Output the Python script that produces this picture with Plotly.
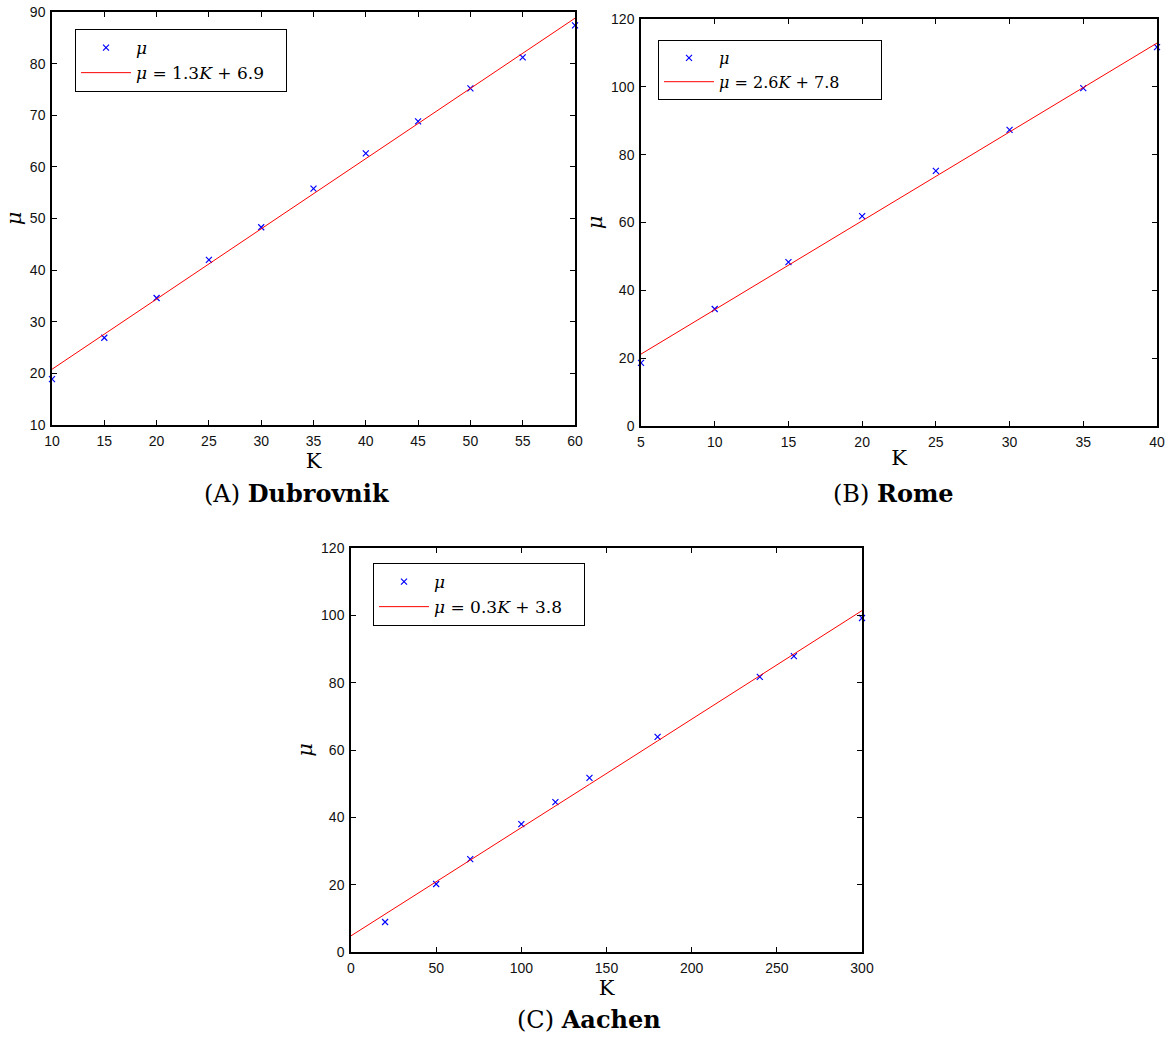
import plotly.graph_objects as go

# ---- data ----
dub_K = [10, 15, 20, 25, 30, 35, 40, 45, 50, 55, 60]
dub_mu = [18.9, 26.9, 34.6, 42.0, 48.3, 55.8, 62.6, 68.8, 75.2, 81.2, 87.4]
dub_fit = [20.8, 27.6, 34.4, 41.2, 48.0, 54.8, 61.6, 68.4, 75.2, 82.0, 88.8]
dub_label = "<i>μ</i> = 1.3<i>K</i> + 6.9"

rome_K = [5, 10, 15, 20, 25, 30, 35, 40]
rome_mu = [18.6, 34.5, 48.3, 61.9, 75.2, 87.3, 99.6, 111.7]
rome_fit = [21.2, 34.3, 47.4, 60.5, 73.6, 86.7, 99.8, 112.9]
rome_label = "<i>μ</i> = 2.6<i>K</i> + 7.8"

aac_K = [20, 50, 70, 100, 120, 140, 180, 240, 260, 300]
aac_mu = [8.9, 20.2, 27.6, 38.0, 44.5, 51.7, 63.9, 81.7, 87.9, 99.2]
aac_fit_K = [0, 20, 50, 70, 100, 120, 140, 180, 240, 260, 300]
aac_fit = [4.8, 11.2, 20.9, 27.3, 37.0, 43.4, 49.8, 62.7, 82.0, 88.5, 101.4]
aac_label = "<i>μ</i> = 0.3<i>K</i> + 3.8"

captions = ["(A) <b>Dubrovnik</b>", "(B) <b>Rome</b>", "(C) <b>Aachen</b>"]

W, H = 1173, 1040
SERIF = "DejaVu Serif"
SANS = "Liberation Sans"

def px_x(p):
    return p / W

def px_y(p):
    return 1 - p / H

# panel boxes in pixels: (left, top, right, bottom)
boxes = [(52, 12, 575, 425), (641, 19, 1157, 426), (351, 548, 862, 952)]
xranges = [[10, 60], [5, 40], [0, 300]]
yranges = [[10, 90], [0, 120], [0, 120]]
xdticks = [5, 5, 50]
ydticks = [10, 20, 20]
legend_pos = [(75, 29), (658, 40), (373, 563)]
legend_font = [17, 16, 17]
legend_pad = ["   ", "       ", "   "]
caption_pos = [(297, 493), (893, 493), (589, 1019)]

fig = go.Figure()

series = [
    (dub_K, dub_mu, dub_K, dub_fit, dub_label),
    (rome_K, rome_mu, rome_K, rome_fit, rome_label),
    (aac_K, aac_mu, aac_fit_K, aac_fit, aac_label),
]

for i, (k, mu, fk, fit, lab) in enumerate(series):
    sfx = "" if i == 0 else str(i + 1)
    leg = "legend" + sfx
    fig.add_trace(go.Scatter(
        x=k, y=mu, mode="markers", name="<i>μ</i>",
        marker=dict(symbol="x-thin", size=6, line=dict(color="#0000ff", width=1.2)),
        xaxis="x" + sfx, yaxis="y" + sfx, legend=leg, cliponaxis=False,
    ))
    fig.add_trace(go.Scatter(
        x=fk, y=fit, mode="lines", name=lab + legend_pad[i],
        line=dict(color="#ff0000", width=1),
        xaxis="x" + sfx, yaxis="y" + sfx, legend=leg,
    ))

layout = dict(
    width=W, height=H, margin=dict(l=0, r=0, t=0, b=0, autoexpand=False),
    paper_bgcolor="white", plot_bgcolor="white", showlegend=True,
)

axis_common = dict(
    showgrid=False, zeroline=False, showline=True, linecolor="black", linewidth=1.5,
    mirror="ticks", ticks="inside", ticklen=5, tickcolor="black", tickwidth=1,
    tickfont=dict(family=SANS, size=14, color="#111"), automargin=False,
)

annotations = []
for i in range(3):
    sfx = "" if i == 0 else str(i + 1)
    l, t, r, b = boxes[i]
    layout["xaxis" + sfx] = dict(
        axis_common, domain=[px_x(l), px_x(r)], range=xranges[i], dtick=xdticks[i],
        anchor="y" + sfx, ticklabelstandoff=2,
        title=dict(text="K", font=dict(family=SERIF, size=21, color="black"), standoff=2),
    )
    layout["yaxis" + sfx] = dict(
        axis_common, domain=[px_y(b), px_y(t)], range=yranges[i], dtick=ydticks[i],
        anchor="x" + sfx, ticklabelstandoff=2,
        title=dict(text="<i>μ</i>", font=dict(family=SERIF, size=21, color="black"), standoff=3),
    )
    lx, ly = legend_pos[i]
    layout["legend" + sfx] = dict(
        x=px_x(lx), y=px_y(ly), xanchor="left", yanchor="top", xref="paper", yref="paper",
        bordercolor="black", borderwidth=1, bgcolor="white",
        font=dict(family=SERIF, size=legend_font[i], color="black"), tracegroupgap=0,
        itemwidth=50,
    )
    cx, cy = caption_pos[i]
    annotations.append(dict(
        text=captions[i], x=px_x(cx), xref="paper", xanchor="center",
        y=px_y(cy), yref="paper", yanchor="middle", showarrow=False,
        font=dict(family=SERIF, size=24, color="black"),
    ))

layout["annotations"] = annotations
fig.update_layout(**layout)

fig.write_html(
    "out.html",
    default_width="1173px",
    default_height="1040px",
    post_script="document.body.style.margin='0px';document.body.style.padding='0px';document.body.style.overflow='hidden';",
)
